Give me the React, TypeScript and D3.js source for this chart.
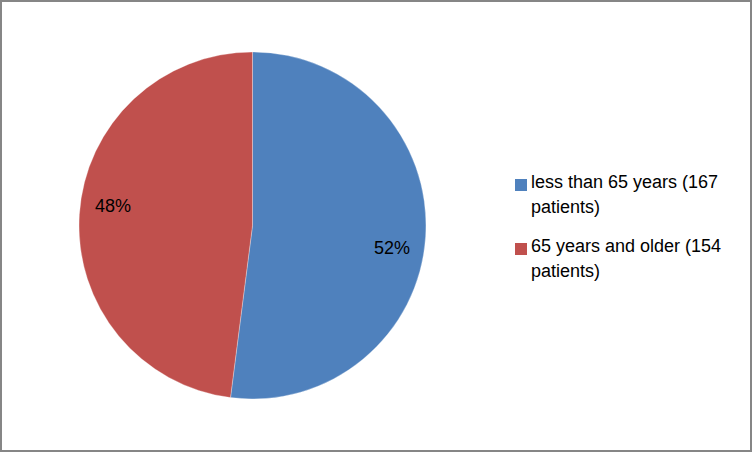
import { useEffect, useRef } from "react"
import * as d3 from "d3"

const categories = ["less than 65 years (167 patients)", "65 years and older (154 patients)"]
const legendLines = [
  ["less than 65 years (167", "patients)"],
  ["65 years and older (154", "patients)"],
]
const patientCounts = [167, 154]
const sliceColors = ["#4F81BD", "#C0504D"]

interface Slice {
  name: string
  value: number
  color: string
  lines: string[]
}

const data: Slice[] = categories.map((name, i) => ({
  name,
  value: patientCounts[i],
  color: sliceColors[i],
  lines: legendLines[i],
}))

export default function App() {
  const svgRef = useRef<SVGSVGElement>(null)
  const width = 752
  const height = 452

  useEffect(() => {
    const svg = d3.select(svgRef.current)
    svg.selectAll("*").remove()

    // chart frame
    svg
      .append("rect")
      .attr("x", 1)
      .attr("y", 1)
      .attr("width", width - 2)
      .attr("height", height - 2)
      .attr("fill", "white")
      .attr("stroke", "#868686")
      .attr("stroke-width", 2)

    const radius = 173.5
    const cx = 252.5
    const cy = 225.5

    const pie = d3
      .pie<Slice>()
      .value((d) => d.value)
      .sort(null)

    const arc = d3.arc<d3.PieArcDatum<Slice>>().innerRadius(0).outerRadius(radius)

    // label ring, turned a few degrees like Excel's best fit
    const shift = (5 * Math.PI) / 180
    const labelArc = d3.arc<d3.PieArcDatum<Slice>>().innerRadius(141).outerRadius(141)

    const total = d3.sum(data, (d) => d.value)
    const g = svg.append("g").attr("transform", `translate(${cx},${cy})`)
    const arcs = g.selectAll(".arc").data(pie(data)).enter().append("g").attr("class", "arc")

    arcs
      .append("path")
      .attr("d", arc)
      .attr("fill", (d) => d.data.color)
      .attr("stroke", "white")
      .attr("stroke-width", 0.5)
      .attr("stroke-opacity", 0.6)

    arcs
      .append("text")
      .attr("transform", (d) => {
        const c = labelArc.centroid({ ...d, startAngle: d.startAngle + shift, endAngle: d.endAngle + shift })
        return `translate(${c})`
      })
      .attr("text-anchor", "middle")
      .attr("dy", "0.4em")
      .attr("font-size", "18px")
      .attr("fill", "#000")
      .text((d) => `${Math.round((d.data.value / total) * 100)}%`)

    // legend
    const legend = svg.append("g").attr("transform", "translate(515,188)")
    const items = legend
      .selectAll(".item")
      .data(data)
      .enter()
      .append("g")
      .attr("class", "item")
      .attr("transform", (_, i) => `translate(0,${i * 64})`)

    items
      .append("rect")
      .attr("x", 0)
      .attr("y", -9)
      .attr("width", 12)
      .attr("height", 12)
      .attr("fill", (d) => d.color)

    items
      .append("text")
      .attr("font-size", "18px")
      .attr("fill", "#000")
      .selectAll("tspan")
      .data((d) => d.lines)
      .enter()
      .append("tspan")
      .attr("x", 16)
      .attr("y", (_, j) => j * 25)
      .text((t) => t)
  }, [])

  return (
    <svg
      ref={svgRef}
      width={width}
      height={height}
      style={{ position: "absolute", left: 0, top: 0, fontFamily: "'Liberation Sans', Arial, sans-serif" }}
    />
  )
}
